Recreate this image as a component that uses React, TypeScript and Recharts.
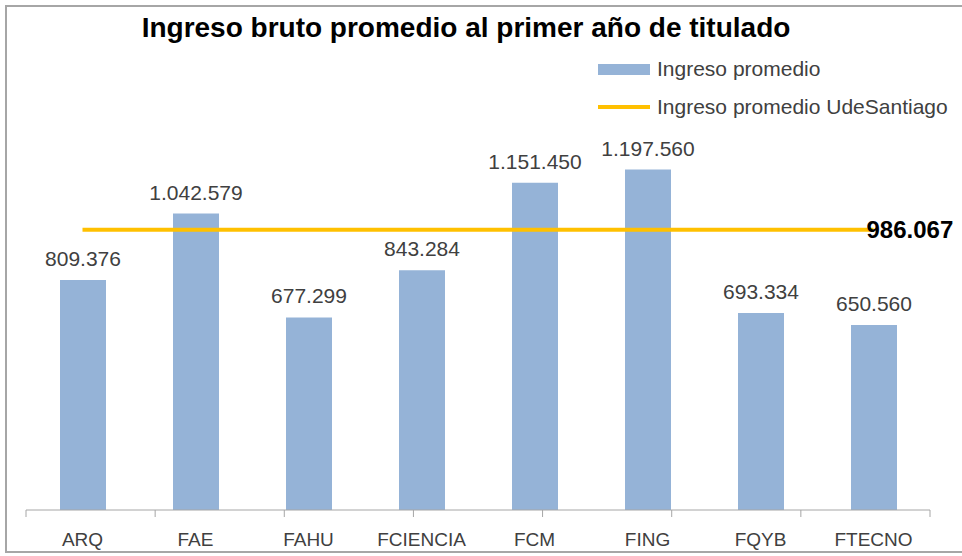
import {
  ComposedChart, Bar, Line, XAxis, YAxis, LabelList,
} from 'recharts';

const CATEGORIES = ['ARQ', 'FAE', 'FAHU', 'FCIENCIA', 'FCM', 'FING', 'FQYB', 'FTECNO'];
const INGRESO_PROMEDIO = [809376, 1042579, 677299, 843284, 1151450, 1197560, 693334, 650560];
const INGRESO_UDESANTIAGO = [986067, 986067, 986067, 986067, 986067, 986067, 986067, 986067];
const BOUNDARY_TICKS = [0, 1, 2, 3, 4, 5, 6, 7, 8];

const BAR_COLOR = '#95B3D7';
const LINE_COLOR = '#FFC000';
const FONT = '"Liberation Sans", Arial, sans-serif';

const data = CATEGORIES.map((cat, i) => ({
  cat,
  ingreso: INGRESO_PROMEDIO[i],
  udesantiago: INGRESO_UDESANTIAGO[i],
}));

// miles con punto, como en el original
const fmt = (v: number) => String(v).replace(/\B(?=(\d{3})+(?!\d))/g, '.');

const LegendBox = () => (
  <div style={{
    position: 'absolute', left: 598, top: 57,
    fontFamily: FONT, fontSize: 21, color: '#404040',
  }}>
    <div style={{ display: 'flex', alignItems: 'center', height: 24 }}>
      <span style={{ display: 'inline-block', width: 52, height: 11, background: BAR_COLOR, marginRight: 7 }} />
      Ingreso promedio
    </div>
    <div style={{ display: 'flex', alignItems: 'center', height: 24, marginTop: 14 }}>
      <span style={{ display: 'inline-block', width: 52, height: 4, background: LINE_COLOR, marginRight: 7 }} />
      Ingreso promedio UdeSantiago
    </div>
  </div>
);

const EndLabel = (props: any) => {
  const { x, y, index, value } = props;
  if (index !== CATEGORIES.length - 1) return null;
  return (
    <text x={x - 7} y={y} dominantBaseline="central" fontFamily={FONT}
      fontSize={24} fontWeight="bold" fill="#000">
      {fmt(value)}
    </text>
  );
};

export default function App() {
  return (
    <div style={{ position: 'absolute', left: 0, top: 0, width: 962, height: 556, background: '#fff' }}>
      <div style={{
        position: 'absolute', left: 5, top: 5, width: 962, height: 548,
        border: '2px solid #A6A6A6', boxSizing: 'border-box',
      }} />
      <div style={{
        position: 'absolute', left: 0, top: 12, width: 932, textAlign: 'center',
        fontFamily: FONT, fontWeight: 'bold', fontSize: 28, color: '#000',
      }}>
        Ingreso bruto promedio al primer año de titulado
      </div>
      <LegendBox />
      <ComposedChart
        width={962}
        height={556}
        data={data}
        margin={{ top: 112, right: 32, bottom: 6, left: 26 }}
        style={{ position: 'absolute', left: 0, top: 0 }}
      >
        <XAxis
          xAxisId="a-grid"
          type="number"
          domain={[0, 8]}
          ticks={BOUNDARY_TICKS}
          height={1}
          tickSize={7}
          tickFormatter={() => ''}
          axisLine={{ stroke: '#A6A6A6' }}
          tickLine={{ stroke: '#A6A6A6' }}
          allowDataOverflow
        />
        <XAxis
          xAxisId="b-cat"
          dataKey="cat"
          height={39}
          axisLine={false}
          tickLine={false}
          tickMargin={16}
          tick={{ fill: '#404040', fontSize: 19, fontFamily: FONT }}
          interval={0}
        />
        <YAxis hide domain={[0, 1400000]} />
        <Bar xAxisId="b-cat" dataKey="ingreso" fill={BAR_COLOR} barSize={46} isAnimationActive={false}>
          <LabelList
            dataKey="ingreso"
            position="top"
            offset={14}
            formatter={(v: any) => fmt(Number(v))}
            style={{ fill: '#404040', fontSize: 21, fontFamily: FONT }}
          />
        </Bar>
        <Line
          xAxisId="b-cat"
          dataKey="udesantiago"
          stroke={LINE_COLOR}
          strokeWidth={4}
          dot={false}
          activeDot={false}
          isAnimationActive={false}
        >
          <LabelList dataKey="udesantiago" content={<EndLabel />} />
        </Line>
      </ComposedChart>
    </div>
  );
}
